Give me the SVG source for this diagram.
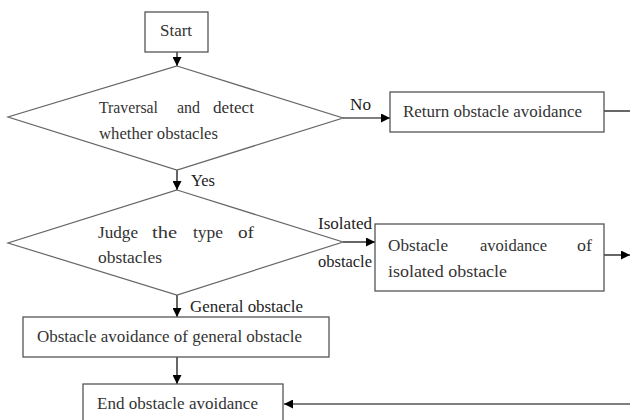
<svg xmlns="http://www.w3.org/2000/svg" width="630" height="420" viewBox="0 0 630 420">
<defs>
<marker id="arr" markerWidth="9" markerHeight="9" refX="9" refY="4.5" orient="auto" markerUnits="userSpaceOnUse">
<path d="M0,0 L9,4.5 L0,9 Z" fill="#000"/>
</marker>
<style>
.box{fill:#fff;stroke:#555;stroke-width:1.3}
.dia{fill:#fff;stroke:#666;stroke-width:1.2}
.t{font-family:"Liberation Serif","Times New Roman",serif;font-size:16px;fill:#333}
.lbl{font-family:"Liberation Serif","Times New Roman",serif;font-size:16px;fill:#222}
.c{fill:none;stroke:#000;stroke-width:1.2}
</style>
</defs>
<rect width="630" height="420" fill="#fff"/>
<g id="connectors">
<path class="c" d="M177,52 V66" marker-end="url(#arr)"/>
<path class="c" d="M177,170 V190" marker-end="url(#arr)"/>
<path class="c" d="M343,118 H390" marker-end="url(#arr)"/>
<path class="c" d="M604,111 H630"/>
<path class="c" d="M343,242 H375" marker-end="url(#arr)"/>
<path class="c" d="M604,255 H630" marker-end="url(#arr)"/>
<path class="c" d="M177,295 V317" marker-end="url(#arr)"/>
<path class="c" d="M177,357 V384" marker-end="url(#arr)"/>
<path class="c" d="M630,404 H284" marker-end="url(#arr)"/>
<text class="lbl" x="350" y="110" textLength="21" lengthAdjust="spacingAndGlyphs">No</text>
<text class="lbl" x="191" y="186" textLength="24" lengthAdjust="spacingAndGlyphs">Yes</text>
<text class="lbl" x="318" y="229" textLength="54" lengthAdjust="spacingAndGlyphs">Isolated</text>
<text class="lbl" x="318" y="267" textLength="54" lengthAdjust="spacingAndGlyphs">obstacle</text>
<text class="lbl" x="190" y="312" textLength="113" lengthAdjust="spacingAndGlyphs">General obstacle</text>
</g>
<g id="start">
<rect class="box" x="145" y="12" width="63" height="40"/>
<text class="t" x="160" y="36" textLength="32" lengthAdjust="spacingAndGlyphs">Start</text>
</g>
<g id="detect">
<polygon class="dia" points="177,66 343,118 177,170 8,117"/>
<text class="t" x="99" y="113" textLength="59" lengthAdjust="spacingAndGlyphs">Traversal</text>
<text class="t" x="177" y="113" textLength="23" lengthAdjust="spacingAndGlyphs">and</text>
<text class="t" x="213" y="113" textLength="41" lengthAdjust="spacingAndGlyphs">detect</text>
<text class="t" x="99" y="139" textLength="119" lengthAdjust="spacingAndGlyphs">whether obstacles</text>
</g>
<g id="return">
<rect class="box" x="390" y="92" width="214" height="40"/>
<text class="t" x="403" y="117" textLength="179" lengthAdjust="spacingAndGlyphs">Return obstacle avoidance</text>
</g>
<g id="judge">
<polygon class="dia" points="177,190 343,242 177,295 8,243"/>
<text class="t" x="98" y="238" textLength="40" lengthAdjust="spacingAndGlyphs">Judge</text>
<text class="t" x="152" y="238" textLength="25" lengthAdjust="spacingAndGlyphs">the</text>
<text class="t" x="193" y="238" textLength="30" lengthAdjust="spacingAndGlyphs">type</text>
<text class="t" x="238" y="238" textLength="16" lengthAdjust="spacingAndGlyphs">of</text>
<text class="t" x="98" y="263" textLength="64" lengthAdjust="spacingAndGlyphs">obstacles</text>
</g>
<g id="isolated">
<rect class="box" x="375" y="224" width="229" height="67"/>
<text class="t" x="388" y="251" textLength="60" lengthAdjust="spacingAndGlyphs">Obstacle</text>
<text class="t" x="480" y="251" textLength="67" lengthAdjust="spacingAndGlyphs">avoidance</text>
<text class="t" x="577" y="251" textLength="15" lengthAdjust="spacingAndGlyphs">of</text>
<text class="t" x="388" y="277" textLength="119" lengthAdjust="spacingAndGlyphs">isolated obstacle</text>
</g>
<g id="general">
<rect class="box" x="23" y="317" width="306" height="40"/>
<text class="t" x="37" y="342" textLength="265" lengthAdjust="spacingAndGlyphs">Obstacle avoidance of general obstacle</text>
</g>
<g id="end">
<rect class="box" x="83" y="384" width="200" height="40"/>
<text class="t" x="97" y="409" textLength="161" lengthAdjust="spacingAndGlyphs">End obstacle avoidance</text>
</g>
</svg>
